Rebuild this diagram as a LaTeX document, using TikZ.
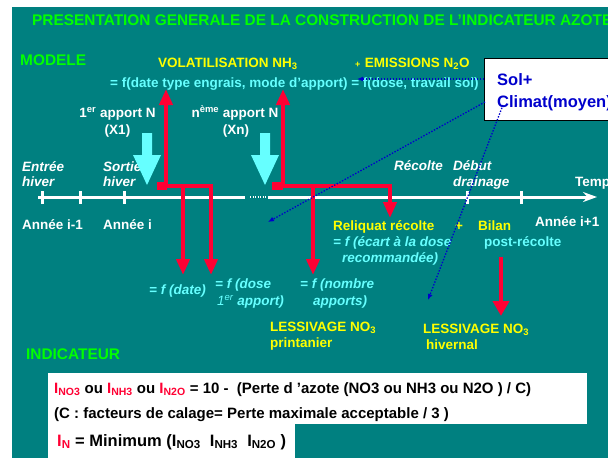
\documentclass[tikz,border=0pt]{standalone}
\usepackage{fontspec}
\setmainfont{Liberation Sans}
\usepackage{tikz}
\usetikzlibrary{arrows.meta}

\definecolor{fond}{RGB}{0,128,128}
\definecolor{vert}{RGB}{0,255,0}
\definecolor{jaune}{RGB}{255,255,0}
\definecolor{ciel}{RGB}{102,255,255}
\definecolor{rouge}{RGB}{255,0,51}
\definecolor{bleu}{RGB}{0,0,204}

\begin{document}
\begin{tikzpicture}[x=1pt,y=-1pt,
	lbl/.style={inner sep=0pt, anchor=base west, font=\bfseries\fontsize{13.5}{15}\selectfont},
	lblc/.style={lbl, anchor=base},
	gros/.style={lbl, font=\bfseries\fontsize{15.4}{17}\selectfont},
	ital/.style={lbl, font=\bfseries\itshape\fontsize{13.5}{15}\selectfont},
	boite/.style={lbl, black, font=\bfseries\fontsize{15}{17}\selectfont},
	fl/.style={line width=4pt, rouge, line join=miter, -{Triangle[length=16pt,width=13pt]}},
	pts/.style={bleu, line width=1.3pt, dash pattern=on 1.4pt off 1.6pt, -{Latex[length=6pt,width=5pt]}},
	axe/.style={white, line width=3pt}]
	\useasboundingbox (0,0) rectangle (608,458);
	\clip (0,0) rectangle (608,458);
	%\draw [help lines] (0,0) grid[step=50] (608,458);
	\fill[white] (0,0) rectangle (608,458);
	\fill[fond] (12,7) rectangle (608,458);

	% titres
	\node[gros, vert] (titre) at (32,25.4) {PRESENTATION GENERALE DE LA CONSTRUCTION DE L’INDICATEUR AZOTE};
	\node[gros, vert] (modele) at (20,65.5) {MODELE};
	\node[gros, vert] (indic) at (26,359.5) {INDICATEUR};

	% volatilisation et emissions
	\node[lbl, jaune] (volat) at (158,67.5) {VOLATILISATION NH\textsubscript{3}};
	\node[lbl, jaune] (emis) at (355,67.5) {{\fontsize{9}{10}\selectfont +}\,\,EMISSIONS N\textsubscript{2}O};
	\node[lbl, ciel] (fvolat) at (110,87.5) {= f(date type engrais, mode d'apport) = f(dose, travail sol)};

	% apports
	\node[lblc, white] (app1) at (117.5,117.5) {1\textsuperscript{er} apport N};
	\node[lblc, white] (x1) at (117.5,134.5) {(X1)};
	\node[lblc, white] (appn) at (235,117.5) {n\textsuperscript{ème} apport N};
	\node[lblc, white] (xn) at (236,134.5) {(Xn)};

	% axe du temps
	\node[ital, white] (entree) at (22,171.5) {Entrée};
	\node[ital, white] (entreeb) at (22,186.5) {hiver};
	\node[ital, white] (sortie) at (103,171.5) {Sortie};
	\node[ital, white] (sortieb) at (103,186.5) {hiver};
	\node[ital, white] (recolte) at (394,170.5) {Récolte};
	\node[ital, white] (debut) at (453,170.5) {Début};
	\node[ital, white] (debutb) at (453,186.5) {drainage};
	\node[lbl, white] (temps) at (575,186.5) {Temps};
	\node[lbl, white] (anm1) at (22,229.5) {Année i-1};
	\node[lbl, white] (ani) at (103,229.5) {Année i};
	\node[lbl, white] (anp1) at (535,226.5) {Année i+1};

	% reliquat et bilan
	\node[lbl, jaune] (reliq) at (333,230.5) {Reliquat récolte};
	\node[lbl, jaune] (plus) at (455,230.5) {+};
	\node[lbl, jaune] (bilan) at (478,230.5) {Bilan};
	\node[ital, ciel] (fecart) at (333,246.5) {= f (écart à la dose};
	\node[ital, ciel] (fecartb) at (342,262.5) {recommandée)};
	\node[lbl, ciel] (postrec) at (484,246.5) {post-récolte};

	% fonctions du lessivage printanier
	\node[ital, ciel] (fdate) at (149,294.5) {= f (date)};
	\node[ital, ciel] (fdose) at (215,288.5) {= f (dose};
	\node[ital, ciel] (fdoseb) at (217,305.5) {{\mdseries 1\textsuperscript{er}} apport)};
	\node[ital, ciel] (fnomb) at (300,288.5) {= f (nombre};
	\node[ital, ciel] (fnombb) at (313,305.5) {apports)};
	\node[lbl, jaune] (lessp) at (270,331.5) {LESSIVAGE NO\textsubscript{3}};
	\node[lbl, jaune] (lesspb) at (270,347.5) {printanier};
	\node[lbl, jaune] (lessh) at (423,333.5) {LESSIVAGE NO\textsubscript{3}};
	\node[lbl, jaune] (lesshb) at (426,349.5) {hivernal};

	% axe
	\draw[axe] (38,197) -- (245,197);
	\draw[white, line width=1.2pt, dash pattern=on 1pt off 1.5pt] (250,197) -- (268,197);
	\coordinate (bout) at (597,197);
	\draw[axe, -{Stealth[length=14pt,width=10pt]}] (268,197) -- (bout);
	\foreach \x in {42,80,124,467,521}
		\draw[axe] (\x,191) -- (\x,204);

	% fleches rouges
	\coordinate (vol1) at (166,89);
	\coordinate (vol2) at (283,89);
	\coordinate (date1) at (183,275);
	\coordinate (dose1) at (211,275);
	\coordinate (nomb1) at (313,275);
	\coordinate (reliq1) at (390,218);
	\coordinate (less1) at (501,316);
	\fill[rouge] (157,182) rectangle (167,190);
	\draw[fl] (166,186) -- (vol1);
	\draw[fl] (157,186) -- (211,186) -- (dose1);
	\draw[fl] (183,186) -- (date1);
	\fill[rouge] (272,182) rectangle (283,190);
	\draw[fl] (283,186) -- (vol2);
	\draw[fl] (272,186) -- (390,186) -- (reliq1);
	\draw[fl] (313,186) -- (nomb1);
	\draw[fl, -{Triangle[length=15pt,width=16pt]}] (501,257) -- (less1);

	% apports d'azote
	\fill[ciel] (142,133) -- (152,133) -- (152,155) -- (161,155) -- (147,185) -- (133,155) -- (142,155) -- cycle;
	\fill[ciel] (260,133) -- (270,133) -- (270,155) -- (279,155) -- (265,185) -- (251,155) -- (260,155) -- cycle;

	% sol + climat
	\node[draw=black, line width=1pt, fill=white, anchor=north west, minimum width=140, minimum height=62, inner sep=0pt] (sol) at (484,58) {};
	\node[lbl, bleu, font=\bfseries\fontsize{16.5}{18}\selectfont] (solA) at (497,85.5) {Sol+};
	\node[lbl, bleu, font=\bfseries\fontsize{16.5}{18}\selectfont] (solB) at (497,107.5) {Climat(moyen)};
	\coordinate (vers1) at (357,79);
	\coordinate (dep2) at (485,102);
	\coordinate (vers2) at (268,222);
	\coordinate (dep3) at (503,105);
	\coordinate (vers3) at (428,300);
	\draw[pts] (sol.west |- vers1) -- (vers1);
	\draw[pts] (dep2) -- (vers2);
	\draw[pts] (dep3) -- (vers3);

	% indicateur
	\fill[white] (48,373) rectangle (587,424);
	\fill[white] (48,424) rectangle (295,458);
	\node[boite] (ind1) at (54,393) {\textcolor{rouge}{I\textsubscript{NO3}} ou \textcolor{rouge}{I\textsubscript{NH3}} ou \textcolor{rouge}{I\textsubscript{N2O}} = 10 -\ \ (Perte d ’azote (NO3 ou NH3 ou N2O ) / C)};
	\node[boite] (ind2) at (54,418.5) {(C : facteurs de calage= Perte maximale acceptable / 3 )};
	\node[boite, font=\bfseries\fontsize{16.5}{18}\selectfont] (ind3) at (57,446) {\textcolor{rouge}{I\textsubscript{N}} = Minimum (I\textsubscript{NO3}\ \ I\textsubscript{NH3}\ \ I\textsubscript{N2O} )};
\end{tikzpicture}
\end{document}
